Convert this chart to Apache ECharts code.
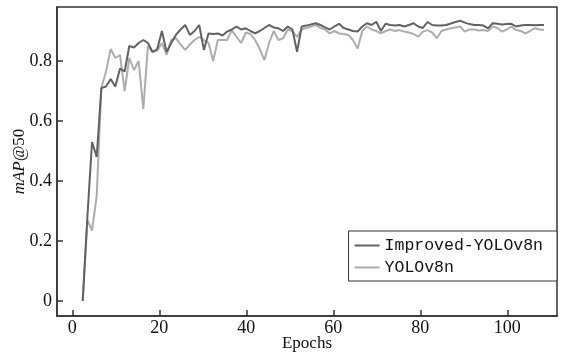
<!DOCTYPE html>
<html>
<head>
<meta charset="utf-8">
<script src="https://cdn.jsdelivr.net/npm/echarts@6/dist/echarts.min.js"></script>
<style>
  html, body { margin: 0; padding: 0; background: #fff; }
  #chart { width: 562px; height: 358px; }
</style>
</head>
<body>
<div id="chart"></div>
<script>
// epochs 1..100
const epochs = Array.from({ length: 100 }, (_, i) => i + 1);

const improved = [
  0.00, 0.28, 0.53, 0.48, 0.71, 0.715, 0.74, 0.715, 0.775, 0.765,
  0.85, 0.845, 0.86, 0.87, 0.86, 0.83, 0.84, 0.90, 0.83, 0.86,
  0.887, 0.905, 0.92, 0.887, 0.90, 0.92, 0.837, 0.892, 0.89, 0.892,
  0.885, 0.898, 0.905, 0.915, 0.905, 0.909, 0.90, 0.892, 0.90, 0.91,
  0.92, 0.912, 0.909, 0.90, 0.915, 0.905, 0.831, 0.915, 0.918, 0.922,
  0.926, 0.92, 0.912, 0.905, 0.915, 0.924, 0.91, 0.905, 0.90, 0.898,
  0.915, 0.926, 0.92, 0.931, 0.90, 0.924, 0.92, 0.918, 0.92, 0.915,
  0.92, 0.926, 0.915, 0.91, 0.93, 0.92, 0.918, 0.918, 0.92, 0.925,
  0.93, 0.934, 0.928, 0.923, 0.92, 0.92, 0.918, 0.909, 0.926, 0.924,
  0.922, 0.923, 0.924, 0.915, 0.918, 0.92, 0.92, 0.919, 0.92, 0.92
];

const baseline = [
  0.00, 0.27, 0.235, 0.35, 0.71, 0.765, 0.84, 0.81, 0.82, 0.70,
  0.81, 0.77, 0.80, 0.64, 0.85, 0.83, 0.835, 0.86, 0.82, 0.87,
  0.876, 0.855, 0.837, 0.855, 0.87, 0.88, 0.87, 0.86, 0.80, 0.87,
  0.87, 0.87, 0.903, 0.88, 0.86, 0.895, 0.89, 0.87, 0.84, 0.803,
  0.86, 0.90, 0.87, 0.876, 0.905, 0.90, 0.88, 0.905, 0.91, 0.915,
  0.92, 0.91, 0.905, 0.892, 0.90, 0.892, 0.89, 0.887, 0.87, 0.842,
  0.90, 0.915, 0.905, 0.90, 0.892, 0.90, 0.905, 0.90, 0.903, 0.898,
  0.895, 0.89, 0.881, 0.898, 0.903, 0.895, 0.876, 0.90, 0.905, 0.909,
  0.912, 0.915, 0.898, 0.905, 0.905, 0.902, 0.903, 0.90, 0.915, 0.91,
  0.898, 0.905, 0.915, 0.903, 0.90, 0.892, 0.90, 0.909, 0.905, 0.903
];

const xTicks = [0, 20, 40, 60, 80, 100];
const yTicks = [0, 0.2, 0.4, 0.6, 0.8];

const serif = "'Liberation Serif', 'DejaVu Serif', serif";
const mono = "'Liberation Mono', 'DejaVu Sans Mono', monospace";
const axisColor = "#333";
const darkLine = "#626262";
const lightLine = "#adadad";

const chart = echarts.init(document.getElementById("chart"), null, { renderer: "canvas" });

chart.setOption({
  animation: false,
  backgroundColor: "#fff",
  grid: {
    left: 57, right: 5, top: 7, bottom: 42,
    show: true, borderColor: axisColor, borderWidth: 1.5,
    containLabel: false,
    outerBoundsMode: "none"
  },
  legend: {
    right: 5, bottom: 77,
    orient: "vertical",
    data: ["Improved-YOLOv8n", "YOLOv8n"],
    icon: "rect",
    itemWidth: 25, itemHeight: 2, itemGap: 5,
    padding: [6, 14, 5, 6],
    borderColor: axisColor, borderWidth: 1, borderRadius: 0,
    backgroundColor: "#fff",
    textStyle: { fontFamily: mono, fontSize: 16.5, color: "#111" }
  },
  xAxis: [
    {
      type: "value",
      min: -3.52, max: 111.43,
      name: "Epochs",
      nameLocation: "middle",
      nameGap: 19,
      nameMoveOverlap: false,
      nameTextStyle: { fontFamily: serif, fontSize: 17, color: "#111" },
      axisLine: { onZero: false, lineStyle: { color: axisColor, width: 1.5 } },
      axisTick: { inside: true, length: 6, customValues: xTicks, lineStyle: { color: axisColor, width: 1.5 } },
      axisLabel: { customValues: xTicks, fontFamily: serif, fontSize: 18, color: "#111", margin: 3 },
      splitLine: { show: false }
    },
    {
      type: "value",
      min: -4.52, max: 102.79,
      show: false
    }
  ],
  yAxis: {
    type: "value",
    min: -0.05, max: 0.98,
    name: "{i|mAP}@50",
    nameLocation: "middle",
    nameGap: 29,
    nameMoveOverlap: false,
    nameRotate: 90,
    nameTextStyle: {
      fontFamily: serif, fontSize: 17, color: "#111",
      rich: { i: { fontFamily: serif, fontSize: 17, fontStyle: "italic", color: "#111" } }
    },
    axisLine: { onZero: false, lineStyle: { color: axisColor, width: 1.5 } },
    axisTick: { inside: true, length: 6, customValues: yTicks, lineStyle: { color: axisColor, width: 1.5 } },
    axisLabel: { customValues: yTicks, fontFamily: serif, fontSize: 18, color: "#111", margin: 5 },
    splitLine: { show: false }
  },
  series: [
    {
      name: "Improved-YOLOv8n",
      type: "line",
      xAxisIndex: 1,
      symbol: "none",
      data: epochs.map((e, i) => [e, improved[i]]),
      lineStyle: { color: darkLine, width: 2 },
      itemStyle: { color: darkLine },
      z: 3
    },
    {
      name: "YOLOv8n",
      type: "line",
      xAxisIndex: 1,
      symbol: "none",
      data: epochs.map((e, i) => [e, baseline[i]]),
      lineStyle: { color: lightLine, width: 2 },
      itemStyle: { color: lightLine },
      z: 2
    }
  ]
});
</script>
</body>
</html>
